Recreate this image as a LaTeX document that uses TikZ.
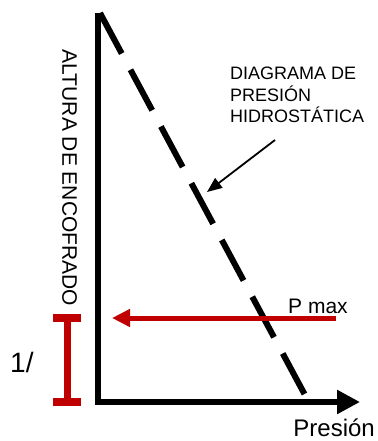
\documentclass[tikz,border=0pt]{standalone}
\usepackage{fontspec}
\setmainfont{Liberation Sans}
\usetikzlibrary{arrows.meta}
\definecolor{rojo}{HTML}{C00000}
\begin{document}
\begin{tikzpicture}[x=1pt,y=-1pt,every node/.style={inner sep=0pt},
  eje/.style={line width=5.5pt,line join=miter,-{Triangle[length=23pt,width=23pt]}},
  diagrama/.style={line width=6pt,dash pattern=on 46pt off 18.4pt},
  rojo/.style={draw=rojo,line width=5pt}]
\useasboundingbox (0,0) rectangle (377,441);
% ejes
\coordinate (arriba) at (98,13);
\coordinate (origen) at (98,402);
\coordinate (derecha) at (360,402);
\draw[eje] (arriba) -- (origen) -- (derecha);
% diagrama de presion
\coordinate (d0) at (100,13);
\coordinate (d1) at (305,395);
\draw[diagrama] (d0) -- (d1);
% textos
\node[anchor=north west,align=left,font=\fontsize{18}{21.5}\selectfont] (titulo) at (230,67)
  {DIAGRAMA DE\\PRESIÓN\\HIDROSTÁTICA};
\node[rotate=-90,font=\fontsize{21}{24}\selectfont] (altura) at (69.5,178) {ALTURA DE ENCOFRADO};
\node[anchor=base west,font=\fontsize{21}{24}\selectfont] (pmax) at (288,313) {P max};
\node[anchor=base west,font=\fontsize{28}{32}\selectfont] (uno) at (10,372) {1/};
\node[anchor=base east,font=\fontsize{24}{28}\selectfont] (presion) at (375,436) {Presión};
% flecha al diagrama
\coordinate (cola) at (275,140);
\coordinate (punta) at (207,192);
\draw[line width=1.8pt,-{Triangle[length=15pt,width=12pt]}] (cola) -- (punta);
% p max
\coordinate (pm0) at (336,318);
\coordinate (pm1) at (112,318);
\draw[rojo,-{Triangle[length=18pt,width=17pt]}] (pm0) -- (pm1);
% cota 1/
\coordinate (c0) at (67,318);
\coordinate (c1) at (67,402);
\draw[rojo,line width=7pt] (c0) -- (c1);
\draw[rojo,line width=8pt] ([xshift=-14pt]c0) -- ([xshift=14pt]c0);
\draw[rojo,line width=8pt] ([xshift=-14pt]c1) -- ([xshift=14pt]c1);
\end{tikzpicture}
\end{document}
